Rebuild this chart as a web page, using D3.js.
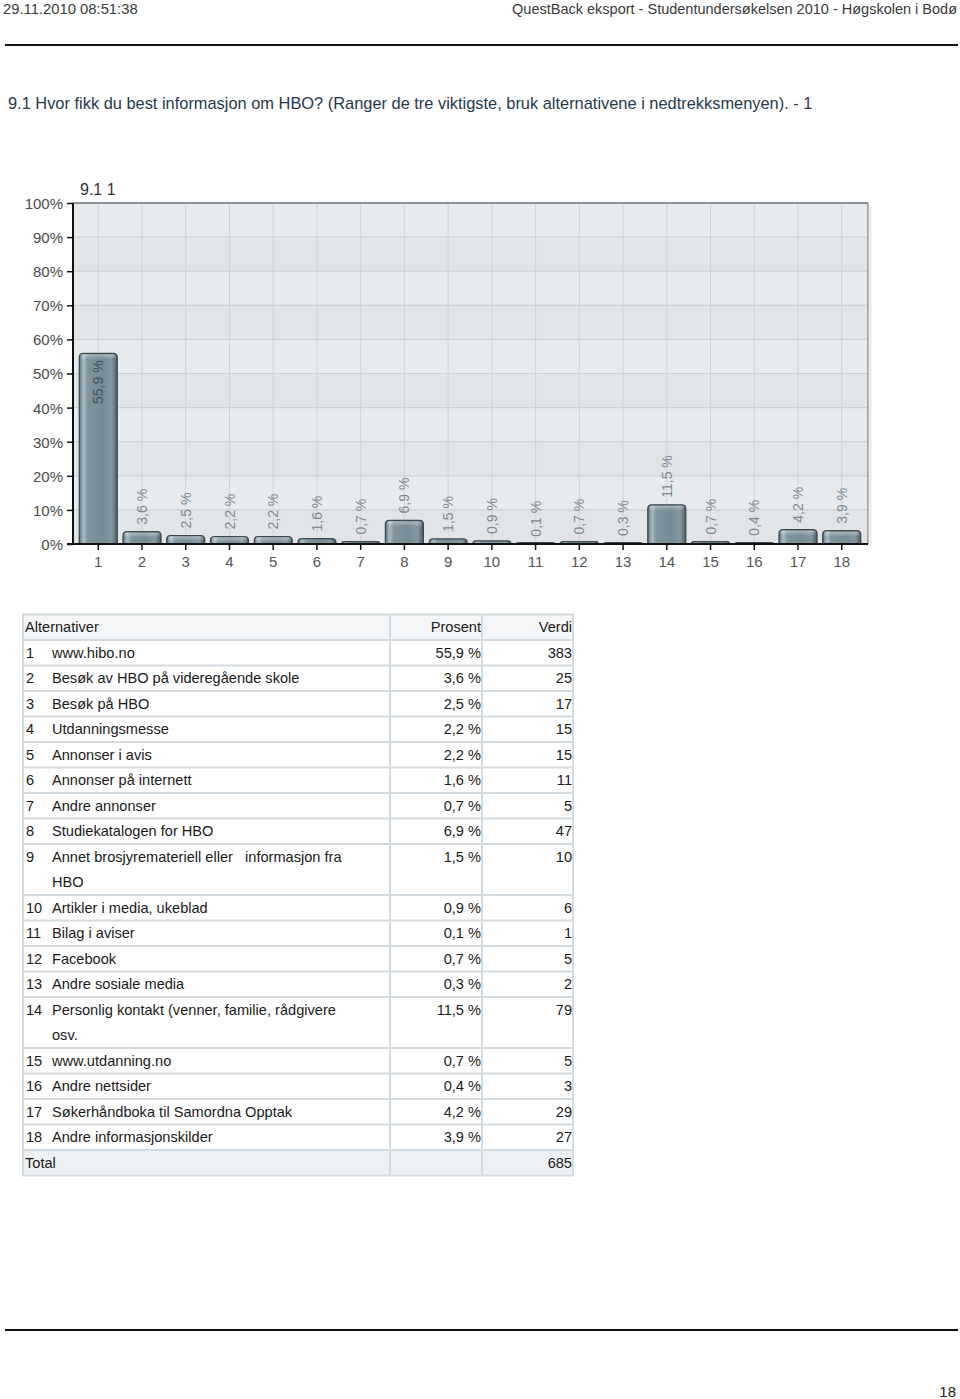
<!DOCTYPE html>
<html><head><meta charset="utf-8">
<script src="https://cdn.jsdelivr.net/npm/d3@7"></script>
<style>
body{margin:0;background:#fff;}
svg{display:block;font-family:"Liberation Sans",Arial,sans-serif;}
text{white-space:pre;}
</style></head><body>
<svg id="c" width="960" height="1399"></svg>
<script>
// ---- data ----
const categories = ["1","2","3","4","5","6","7","8","9","10","11","12","13","14","15","16","17","18"];
const percentValues = [55.9,3.6,2.5,2.2,2.2,1.6,0.7,6.9,1.5,0.9,0.1,0.7,0.3,11.5,0.7,0.4,4.2,3.9];
const counts = [383,25,17,15,15,11,5,47,10,6,1,5,2,79,5,3,29,27];
const alternatives = [
  "www.hibo.no",
  "Besøk av HBO på videregående skole",
  "Besøk på HBO",
  "Utdanningsmesse",
  "Annonser i avis",
  "Annonser på internett",
  "Andre annonser",
  "Studiekatalogen for HBO",
  "Annet brosjyremateriell eller   informasjon fra HBO",
  "Artikler i media, ukeblad",
  "Bilag i aviser",
  "Facebook",
  "Andre sosiale media",
  "Personlig kontakt (venner, familie, rådgivere osv.",
  "www.utdanning.no",
  "Andre nettsider",
  "Søkerhåndboka til Samordna Opptak",
  "Andre informasjonskilder"
];
const yTicks = [0,10,20,30,40,50,60,70,80,90,100];
const totalCount = 685;
const headerLeft = "29.11.2010 08:51:38";
const headerRight = "QuestBack eksport - Studentundersøkelsen 2010 - Høgskolen i Bodø";
const questionTitle = "9.1 Hvor fikk du best informasjon om HBO? (Ranger de tre viktigste, bruk alternativene i nedtrekksmenyen). - 1";
const chartTitle = "9.1 1";
const tableHeaders = ["Alternativer","Prosent","Verdi"];
const pageNumber = "18";

const fmt = v => String(v.toFixed(1)).replace(".", ",") + " %";

const svg = d3.select("#c");

// ---- page header ----
svg.append("text").attr("x",3).attr("y",14).attr("font-size",14.8).attr("fill","#3a3a3a").text(headerLeft);
svg.append("text").attr("x",957).attr("y",14).attr("text-anchor","end").attr("font-size",14.5).attr("fill","#3a3a3a").text(headerRight);
svg.append("line").attr("x1",5).attr("x2",958).attr("y1",45).attr("y2",45).attr("stroke","#111").attr("stroke-width",2);

svg.append("text").attr("x",8).attr("y",109).attr("font-size",16.4).attr("fill","#26394b").text(questionTitle);

// ---- chart ----
const plot = {left:73, right:868, top:203, bottom:544};
const x = d3.scaleBand().domain(categories).range([76.4, 863.6]).paddingInner(0.13).paddingOuter(0.065);
const y = d3.scaleLinear().domain([0,100]).range([plot.bottom, plot.top]);

const defs = svg.append("defs");
const g1 = defs.append("linearGradient").attr("id","barGrad").attr("x1","0").attr("x2","1").attr("y1","0").attr("y2","0");
[[0,"#4a5a62"],[0.05,"#8399a3"],[0.12,"#a9bcc4"],[0.22,"#7f949e"],[0.6,"#768b95"],[0.85,"#8498a2"],[0.95,"#607279"],[1,"#3e4c54"]]
  .forEach(([o,c]) => g1.append("stop").attr("offset",o).attr("stop-color",c));
const g2 = defs.append("linearGradient").attr("id","capGrad").attr("x1","0").attr("x2","0").attr("y1","0").attr("y2","1");
[[0,"#ffffff",0.35],[1,"#ffffff",0]].forEach(([o,c,a]) => g2.append("stop").attr("offset",o).attr("stop-color",c).attr("stop-opacity",a));

const chart = svg.append("g");
chart.append("rect").attr("x",plot.left).attr("y",plot.top).attr("width",plot.right-plot.left).attr("height",plot.bottom-plot.top).attr("fill","#e8ebee");
chart.selectAll("rect.band").data(yTicks.filter((d,i)=> i<10 && i%2===0)).join("rect")
  .attr("class","band").attr("x",plot.left).attr("width",plot.right-plot.left)
  .attr("y",d=>y(d+10)).attr("height",d=>y(d)-y(d+10)).attr("fill","#e2e5e7");
chart.selectAll("line.hg").data(yTicks.slice(1,10)).join("line").attr("class","hg")
  .attr("x1",plot.left).attr("x2",plot.right).attr("y1",d=>y(d)).attr("y2",d=>y(d))
  .attr("stroke","#cdd2d5").attr("stroke-width",1.2);
chart.selectAll("line.vg").data(categories).join("line").attr("class","vg")
  .attr("x1",d=>x(d)+x.bandwidth()/2).attr("x2",d=>x(d)+x.bandwidth()/2)
  .attr("y1",plot.top).attr("y2",plot.bottom).attr("stroke","#cfd3d6").attr("stroke-width",1);
chart.append("line").attr("x1",plot.left).attr("x2",plot.right).attr("y1",plot.top).attr("y2",plot.top).attr("stroke","#6b6f72").attr("stroke-width",1.5);
chart.append("line").attr("x1",plot.right).attr("x2",plot.right).attr("y1",plot.top).attr("y2",plot.bottom).attr("stroke","#8a8e91").attr("stroke-width",1.5);
chart.append("rect").attr("x",plot.right+0.75).attr("y",plot.top+2).attr("width",3).attr("height",plot.bottom-plot.top).attr("fill","#eeeeee");

// bars
const bars = chart.selectAll("g.bar").data(categories.map((c,i)=>({c, v:percentValues[i]}))).join("g").attr("class","bar");
function barPath(d){
  const x0 = x(d.c), w = x.bandwidth(), y0 = y(d.v), yb = plot.bottom;
  const h = Math.max(yb - y0, 1.5);
  const r = Math.min(4, h);
  const top = yb - h;
  return `M${x0},${yb}V${top+r}Q${x0},${top} ${x0+r},${top}H${x0+w-r}Q${x0+w},${top} ${x0+w},${top+r}V${yb}Z`;
}
bars.append("path").attr("d",barPath).attr("fill","url(#barGrad)").attr("stroke","#3c4a52").attr("stroke-width",1.2);
bars.filter(d=> y(0)-y(d.v) > 6).append("rect")
  .attr("x",d=>x(d.c)+1.5).attr("y",d=>y(d.v)+1).attr("width",x.bandwidth()-3).attr("height",5)
  .attr("rx",2).attr("fill","url(#capGrad)");

// value labels
const isInside = d => (y(0)-y(d.v)) > 60;
bars.append("text")
  .attr("transform", d => {
    const cx = x(d.c) + x.bandwidth()/2;
    const yy = isInside(d) ? y(d.v) + 7 : Math.min(y(d.v) - 7, 537);
    return `translate(${cx},${yy}) rotate(-90)`;
  })
  .attr("text-anchor", d => isInside(d) ? "end" : "start")
  .attr("dy","0.36em").attr("font-size",14)
  .attr("fill", d => isInside(d) ? "#44535b" : "#7f8b92")
  .text(d => fmt(d.v));

// axes
const yAxis = d3.axisLeft(y).tickValues(yTicks).tickSize(6).tickPadding(4).tickFormat(d=>d+"%");
const ya = svg.append("g").attr("transform",`translate(${plot.left},0)`).call(yAxis);
ya.select(".domain").attr("stroke","#111").attr("stroke-width",2).attr("d",`M0,${plot.top}V${plot.bottom+1}`);
ya.selectAll(".tick line").attr("stroke","#111").attr("stroke-width",1.5);
ya.selectAll(".tick text").attr("font-size",15).attr("fill","#4a4a4a").attr("font-family","Liberation Sans, Arial, sans-serif").attr("dy","0.36em");

const xAxis = d3.axisBottom(x).tickSize(6).tickPadding(6);
const xa = svg.append("g").attr("transform",`translate(0,${plot.bottom})`).call(xAxis);
xa.select(".domain").attr("stroke","#111").attr("stroke-width",2).attr("d",`M${plot.left-6},0H${plot.right}`);
xa.selectAll(".tick line").attr("stroke","#111").attr("stroke-width",1.5);
xa.selectAll(".tick text").attr("font-size",15).attr("fill","#555").attr("font-family","Liberation Sans, Arial, sans-serif");

svg.append("text").attr("x",80).attr("y",195).attr("font-size",16).attr("fill","#333").text(chartTitle);

// ---- table ----
const tbl = {left:23, right:573, c1:390, c2:482, top:614.5, rowH:25.5, fs:14.6};
const tg = svg.append("g").attr("font-size",tbl.fs).attr("fill","#1a1a1a");
const measure = svg.append("text").attr("font-size",tbl.fs).attr("visibility","hidden");
function wrap(str, maxW){
  const words = str.split(" ");
  const lines = []; let cur = "";
  words.forEach(w => {
    const test = cur === "" ? w : cur + " " + w;
    measure.text(test);
    if (measure.node().getComputedTextLength() > maxW && cur !== "") { lines.push(cur); cur = w; }
    else cur = test;
  });
  lines.push(cur);
  return lines;
}
const rows = [{type:"header"}];
alternatives.forEach((a,i)=> rows.push({type:"row", n:i+1, lines:wrap(a, 300), p:percentValues[i], v:counts[i]}));
rows.push({type:"total"});

let cy = tbl.top;
const rowGeom = [];
rows.forEach(r => {
  const nl = r.lines ? r.lines.length : 1;
  rowGeom.push({r, y0:cy, h:nl*tbl.rowH});
  cy += nl*tbl.rowH;
});
const tblBottom = cy;

tg.append("rect").attr("x",tbl.left).attr("y",tbl.top).attr("width",tbl.right-tbl.left).attr("height",tbl.rowH).attr("fill","#f4f6f7");
tg.append("rect").attr("x",tbl.left).attr("y",tblBottom-tbl.rowH).attr("width",tbl.right-tbl.left).attr("height",tbl.rowH).attr("fill","#eef1f3");

tg.selectAll("line.rl").data(rowGeom.slice(1)).join("line").attr("class","rl")
  .attr("x1",tbl.left).attr("x2",tbl.right).attr("y1",d=>d.y0).attr("y2",d=>d.y0)
  .attr("stroke","#d3dbe0").attr("stroke-width",2);
tg.append("rect").attr("x",tbl.left).attr("y",tbl.top).attr("width",tbl.right-tbl.left).attr("height",tblBottom-tbl.top)
  .attr("fill","none").attr("stroke","#d3dbe0").attr("stroke-width",2);
[tbl.c1, tbl.c2].forEach(cx0 => tg.append("line").attr("x1",cx0).attr("x2",cx0).attr("y1",tbl.top).attr("y2",tblBottom).attr("stroke","#d3dbe0").attr("stroke-width",2));

rowGeom.forEach(g => {
  const r = g.r, base = g.y0 + tbl.rowH/2 + 5;
  if (r.type === "header") {
    tg.append("text").attr("x",25).attr("y",base).text(tableHeaders[0]);
    tg.append("text").attr("x",tbl.c2-1).attr("y",base).attr("text-anchor","end").text(tableHeaders[1]);
    tg.append("text").attr("x",tbl.right-1).attr("y",base).attr("text-anchor","end").text(tableHeaders[2]);
  } else if (r.type === "total") {
    tg.append("text").attr("x",25).attr("y",base).text("Total");
    tg.append("text").attr("x",tbl.right-1).attr("y",base).attr("text-anchor","end").text(totalCount);
  } else {
    tg.append("text").attr("x",26).attr("y",base).text(r.n);
    r.lines.forEach((ln,k) => tg.append("text").attr("x",52).attr("y",base + k*tbl.rowH).text(ln));
    tg.append("text").attr("x",tbl.c2-1).attr("y",base).attr("text-anchor","end").text(fmt(r.p));
    tg.append("text").attr("x",tbl.right-1).attr("y",base).attr("text-anchor","end").text(r.v);
  }
});
measure.remove();

// ---- footer ----
svg.append("line").attr("x1",5).attr("x2",958).attr("y1",1330).attr("y2",1330).attr("stroke","#111").attr("stroke-width",2);
svg.append("text").attr("x",956).attr("y",1397).attr("text-anchor","end").attr("font-size",15).attr("fill","#222").text(pageNumber);
</script>
</body></html>
